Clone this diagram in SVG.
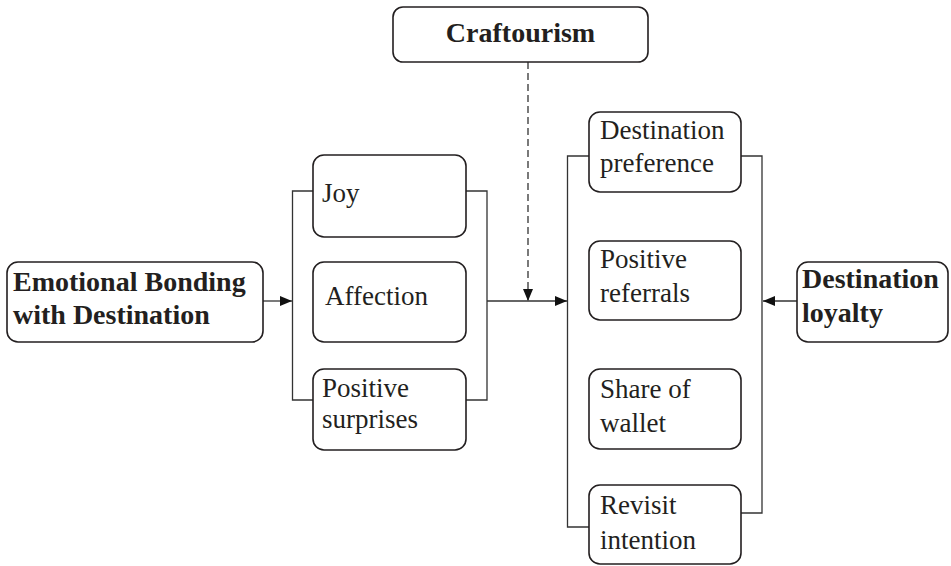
<svg xmlns="http://www.w3.org/2000/svg" width="951" height="566" viewBox="0 0 951 566">
<style>
.box{fill:#fff;stroke:#231f20;stroke-width:1.6}
text{font-family:'Liberation Serif','DejaVu Serif',serif;fill:#231f20}
.t{font-size:27px}
.b{font-size:28px;font-weight:bold}
.c{fill:none;stroke:#333;stroke-width:1.3}
</style>
<defs>
<marker id="ah" markerWidth="12" markerHeight="10" refX="12" refY="5" orient="auto" markerUnits="userSpaceOnUse">
<path d="M0,0 L12,5 L0,10 Z" fill="#111"/>
</marker>
</defs>
<rect width="951" height="566" fill="#fff"/>
<g id="connectors">
<path class="c" d="M263,301 H292" marker-end="url(#ah)"/>
<path class="c" d="M313,191 H292.5 V400 H313"/>
<path class="c" d="M466,191 H487 V400 H466"/>
<path class="c" d="M487,301 H567" marker-end="url(#ah)"/>
<path class="c" d="M528,62 V301" stroke-dasharray="7,4" marker-end="url(#ah)"/>
<path class="c" d="M589,156 H567.5 V527 H589"/>
<path class="c" d="M741,156 H762 V513 H741"/>
<path class="c" d="M797,301 H763" marker-end="url(#ah)"/>
</g>
<g id="craftourism">
<rect class="box" x="393" y="7" width="255" height="55" rx="10"/>
<text class="b" x="520.5" y="42" text-anchor="middle">Craftourism</text>
</g>
<g id="emotional">
<rect class="box" x="7" y="262" width="256" height="80" rx="11"/>
<text class="b" x="13" y="291">Emotional Bonding</text>
<text class="b" x="13" y="324">with Destination</text>
</g>
<g id="joy">
<rect class="box" x="313" y="155" width="153" height="82" rx="11"/>
<text class="t" x="322" y="202">Joy</text>
</g>
<g id="affection">
<rect class="box" x="313" y="262" width="153" height="80" rx="11"/>
<text class="t" x="325" y="305">Affection</text>
</g>
<g id="surprises">
<rect class="box" x="313" y="369" width="153" height="81" rx="11"/>
<text class="t" x="322" y="397">Positive</text>
<text class="t" x="322" y="428">surprises</text>
</g>
<g id="preference">
<rect class="box" x="589" y="112" width="152" height="80" rx="11"/>
<text class="t" x="600" y="139">Destination</text>
<text class="t" x="600" y="172">preference</text>
</g>
<g id="referrals">
<rect class="box" x="589" y="241" width="152" height="79" rx="11"/>
<text class="t" x="600" y="268">Positive</text>
<text class="t" x="600" y="302">referrals</text>
</g>
<g id="wallet">
<rect class="box" x="589" y="369" width="152" height="80" rx="11"/>
<text class="t" x="600" y="398">Share of</text>
<text class="t" x="600" y="432">wallet</text>
</g>
<g id="revisit">
<rect class="box" x="589" y="485" width="152" height="79" rx="11"/>
<text class="t" x="600" y="514">Revisit</text>
<text class="t" x="600" y="549">intention</text>
</g>
<g id="loyalty">
<rect class="box" x="797" y="262" width="151" height="80" rx="11"/>
<text class="b" x="802" y="288">Destination</text>
<text class="b" x="802" y="322">loyalty</text>
</g>
</svg>
